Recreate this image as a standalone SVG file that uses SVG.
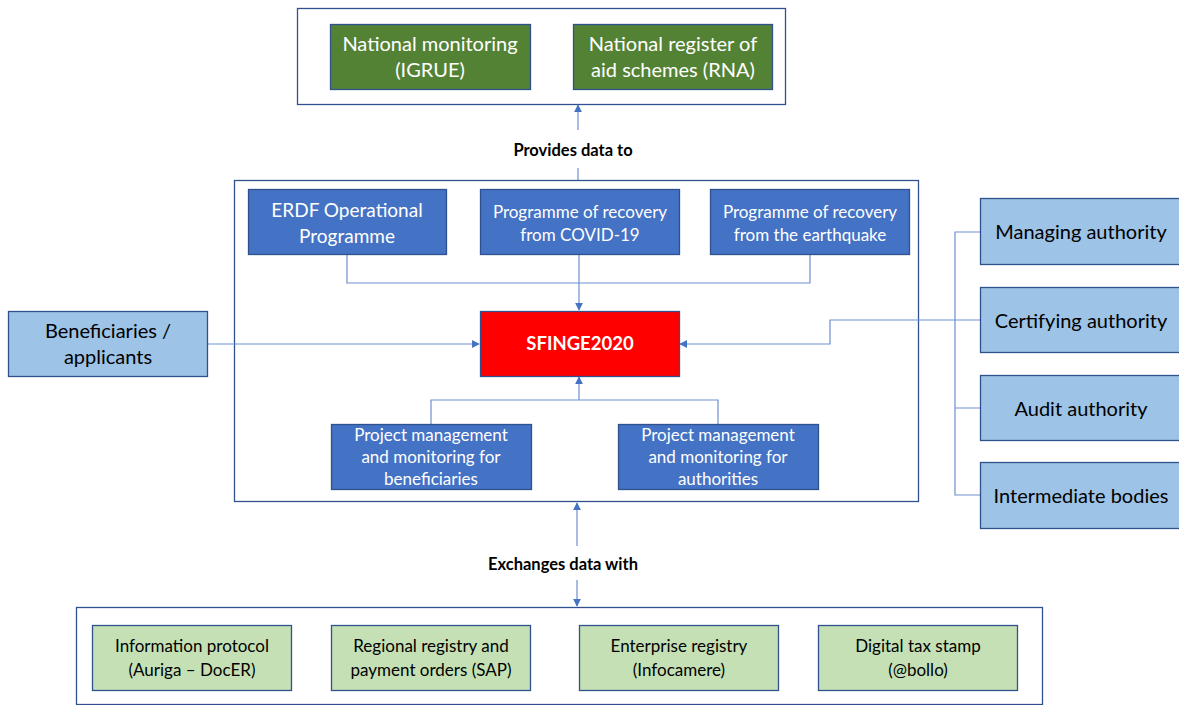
<svg xmlns="http://www.w3.org/2000/svg" width="1179" height="705" viewBox="0 0 1179 705">
<defs>
<marker id="ah" viewBox="0 0 10 10" refX="9" refY="5" markerWidth="8" markerHeight="8" markerUnits="userSpaceOnUse" orient="auto-start-reverse"><path d="M0,0 L10,5 L0,10 z" fill="#4472C4"/></marker>
<style>
text{font-family:Lato,"Liberation Sans",sans-serif;text-anchor:middle}
.cont{fill:#fff;stroke:#2F528F;stroke-width:1.3}
.dg{fill:#548235;stroke:#2F528F;stroke-width:1.3}
.bl{fill:#4472C4;stroke:#2F528F;stroke-width:1.3}
.lb{fill:#9DC3E6;stroke:#2F528F;stroke-width:1.3}
.lg{fill:#C5E0B4;stroke:#2F528F;stroke-width:1.3}
.rd{fill:#FF0000;stroke:#2F528F;stroke-width:1.3}
.w20{fill:#fff;font-size:20px}
.w19{fill:#fff;font-size:19px}
.w17{fill:#fff;font-size:17px}
.k20{fill:#000;font-size:20px}
.k17{fill:#000;font-size:17px}
.lab{fill:#000;font-size:16.5px;font-weight:bold}
.c{fill:none;stroke:#6E8FD0;stroke-width:1.2}
</style>
</defs>
<g id="containers">
<rect class="cont" x="297.5" y="8.5" width="488" height="96"/>
<rect class="cont" x="234.5" y="180.5" width="684" height="321"/>
<rect class="cont" x="76.5" y="607.5" width="966" height="97"/>
</g>
<g id="connectors">
<path class="c" d="M578,130 V105" marker-end="url(#ah)"/>
<path class="c" d="M578,168 V180"/>
<path class="c" d="M347,254 V283 H810 V254"/>
<path class="c" d="M579,254 V310" marker-end="url(#ah)"/>
<path class="c" d="M207,344 H479" marker-end="url(#ah)"/>
<path class="c" d="M431,424 V400 H718 V424"/>
<path class="c" d="M579,400 V377" marker-end="url(#ah)"/>
<path class="c" d="M980,320 H830 V344 H680" marker-end="url(#ah)"/>
<path class="c" d="M980,232 H955 V495 H980 M955,408 H980"/>
<path class="c" d="M577,546 V503" marker-end="url(#ah)"/>
<path class="c" d="M577,580 V606" marker-end="url(#ah)"/>
</g>
<g id="labels">
<text class="lab" x="573" y="156">Provides data to</text>
<text class="lab" x="563" y="570">Exchanges data with</text>
</g>
<g id="igrue"><rect class="dg" x="330.5" y="24.5" width="200" height="65"/><text class="w20" x="430" y="51">National monitoring</text><text class="w20" x="430" y="77">(IGRUE)</text></g>
<g id="rna"><rect class="dg" x="573.5" y="24.5" width="199" height="65"/><text class="w20" x="673" y="51">National register of</text><text class="w20" x="673" y="77">aid schemes (RNA)</text></g>
<g id="erdf"><rect class="bl" x="248.5" y="189.5" width="198" height="65"/><text class="w19" x="347" y="217">ERDF Operational</text><text class="w19" x="347" y="243">Programme</text></g>
<g id="covid"><rect class="bl" x="480.5" y="189.5" width="199" height="65"/><text class="w17" x="580" y="218">Programme of recovery</text><text class="w17" x="580" y="241">from COVID-19</text></g>
<g id="earthquake"><rect class="bl" x="710.5" y="189.5" width="199" height="65"/><text class="w17" x="810" y="218">Programme of recovery</text><text class="w17" x="810" y="241">from the earthquake</text></g>
<g id="sfinge"><rect class="rd" x="480.5" y="311.5" width="199" height="65"/><text x="580" y="350" style="fill:#fff;font-size:18.5px;font-weight:bold">SFINGE2020</text></g>
<g id="beneficiaries"><rect class="lb" x="8.5" y="311.5" width="199" height="65"/><text class="k20" x="108" y="338">Beneficiaries /</text><text class="k20" x="108" y="364">applicants</text></g>
<g id="pm-ben"><rect class="bl" x="331.5" y="424.5" width="200" height="65"/><text class="w17" x="431" y="441">Project management</text><text class="w17" x="431" y="463">and monitoring for</text><text class="w17" x="431" y="485">beneficiaries</text></g>
<g id="pm-auth"><rect class="bl" x="618.5" y="424.5" width="200" height="65"/><text class="w17" x="718" y="441">Project management</text><text class="w17" x="718" y="463">and monitoring for</text><text class="w17" x="718" y="485">authorities</text></g>
<g id="managing"><rect class="lb" x="980.5" y="198.5" width="205" height="66"/><text class="k20" x="1081" y="239">Managing authority</text></g>
<g id="certifying"><rect class="lb" x="980.5" y="287.5" width="205" height="65"/><text class="k20" x="1081" y="328">Certifying authority</text></g>
<g id="audit"><rect class="lb" x="980.5" y="375.5" width="205" height="65"/><text class="k20" x="1081" y="416">Audit authority</text></g>
<g id="intermediate"><rect class="lb" x="980.5" y="462.5" width="205" height="66"/><text class="k20" x="1081" y="503">Intermediate bodies</text></g>
<g id="protocol"><rect class="lg" x="92.5" y="625.5" width="199" height="65"/><text class="k17" x="192" y="652">Information protocol</text><text class="k17" x="192" y="676">(Auriga – DocER)</text></g>
<g id="sap"><rect class="lg" x="331.5" y="625.5" width="199" height="65"/><text class="k17" x="431" y="652">Regional registry and</text><text class="k17" x="431" y="676">payment orders (SAP)</text></g>
<g id="infocamere"><rect class="lg" x="579.5" y="625.5" width="199" height="65"/><text class="k17" x="679" y="652">Enterprise registry</text><text class="k17" x="679" y="676">(Infocamere)</text></g>
<g id="bollo"><rect class="lg" x="818.5" y="625.5" width="199" height="65"/><text class="k17" x="918" y="652">Digital tax stamp</text><text class="k17" x="918" y="676">(@bollo)</text></g>
</svg>
